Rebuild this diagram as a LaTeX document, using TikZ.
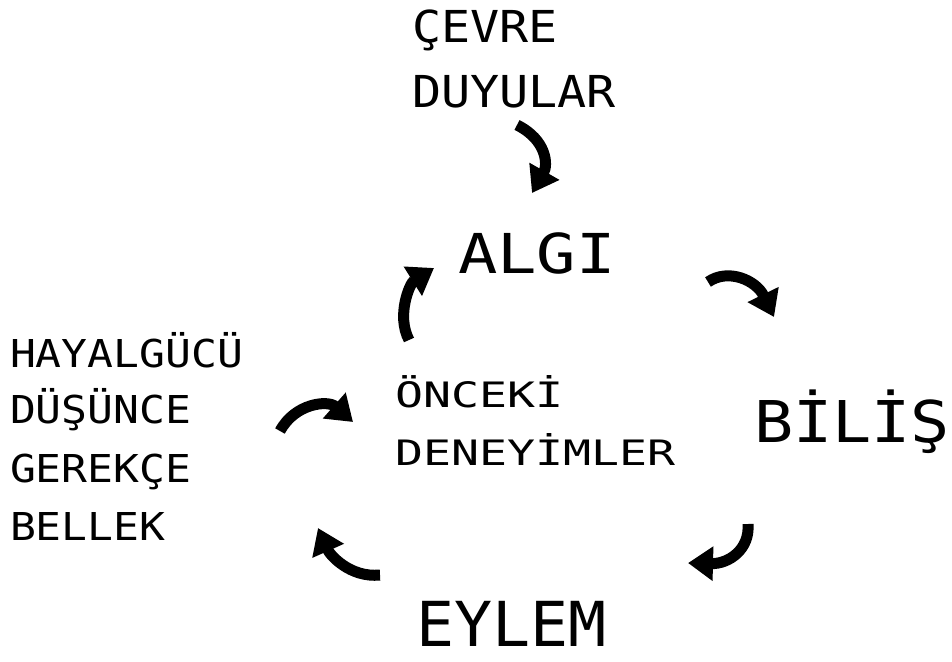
\documentclass[tikz,border=0pt]{standalone}
\usepackage{fontspec}
\usepackage{graphicx}
\setmonofont{DejaVu Sans Mono}
\usetikzlibrary{arrows.meta}
\newcommand{\lbltxt}[3]{\scalebox{#1}[1]{\ttfamily\fontsize{#2}{#2}\selectfont #3}}
\tikzset{
  lbl/.style={anchor=base west, inner sep=0pt, outer sep=0pt},
  curvearrow/.style={line width=11pt, -{Triangle[length=25pt,width=33pt]}},
}
\begin{document}
\begin{tikzpicture}[x=1pt,y=-1pt]
\useasboundingbox (0,0) rectangle (952,661);
% top inputs
\node[lbl] (cevre) at (412,42) {\lbltxt{1.1}{44}{ÇEVRE}};
\node[lbl] (duyular) at (412,107) {\lbltxt{1.1}{44}{DUYULAR}};
% cycle
\node[lbl] (algi) at (458,273) {\lbltxt{1.19}{55}{ALGI}};
\node[lbl] (bilis) at (754,442) {\lbltxt{1.13}{57.6}{BİLİŞ}};
\node[lbl] (eylem) at (416,646) {\lbltxt{1.02}{62}{EYLEM}};
% center
\node[lbl] (onceki) at (395,407) {\lbltxt{1.33}{35}{ÖNCEKİ}};
\node[lbl] (deneyim) at (395,465) {\lbltxt{1.33}{35}{DENEYİMLER}};
% left column
\node[lbl] (hayal) at (10,367) {\lbltxt{1.12}{38.4}{HAYALGÜCÜ}};
\node[lbl] (dusunce) at (10,423) {\lbltxt{1.12}{38.4}{DÜŞÜNCE}};
\node[lbl] (gerekce) at (10,482) {\lbltxt{1.12}{38.4}{GEREKÇE}};
\node[lbl] (bellek) at (10,540) {\lbltxt{1.12}{38.4}{BELLEK}};
% arrow end points
\coordinate (a1s) at (517,125); \coordinate (a1e) at (532,193);
\coordinate (a2s) at (708,282); \coordinate (a2e) at (774,317);
\coordinate (a3s) at (748,524); \coordinate (a3e) at (688,563);
\coordinate (a4s) at (380,575); \coordinate (a4e) at (318,528);
\coordinate (a5s) at (409,340); \coordinate (a5e) at (434,268);
\coordinate (a6s) at (280,431); \coordinate (a6e) at (353,422);
\draw[curvearrow] (a1s) .. controls (547,140) and (548,165) .. (a1e);
\draw[curvearrow] (a2s) .. controls (728,268) and (756,280) .. (a2e);
\draw[curvearrow] (a3s) .. controls (750,550) and (728,564) .. (a3e);
\draw[curvearrow] (a4s) .. controls (350,578) and (330,555) .. (a4e);
\draw[curvearrow] (a5s) .. controls (396,315) and (410,283) .. (a5e);
\draw[curvearrow] (a6s) .. controls (295,403) and (328,400) .. (a6e);
\end{tikzpicture}
\end{document}
